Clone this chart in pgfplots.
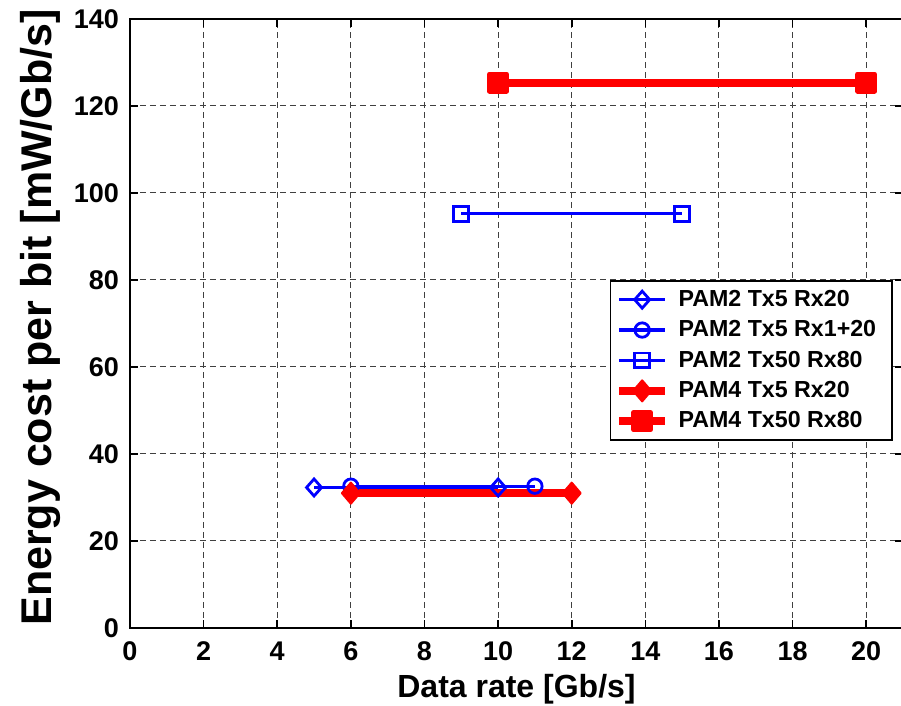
\documentclass[border=0pt]{standalone}
\usepackage{pgfplots}
\pgfplotsset{compat=1.18}
\usepackage{fontspec}
\setmainfont{Liberation Sans}
\begin{document}
\begin{tikzpicture}
\begin{axis}[
  scale only axis,
  width=386.5pt, height=304.5pt,
  xmin=0, xmax=21, ymin=0, ymax=140,
  xtick={0,2,...,20}, ytick={0,20,...,140},
  grid=major,
  major grid style={black!75, line width=0.5pt, dash pattern=on 3pt off 2pt},
  axis line style={line width=1pt},
  every tick/.style={black, line width=0.8pt},
  major tick length=4pt,
  tick align=inside,
  /pgf/number format/assume math mode=true,
  tick label style={font=\bfseries\fontsize{13.5}{14}\selectfont},
  xticklabel style={yshift=-3.5pt},
  yticklabel style={xshift=-2pt},
  xlabel={Data rate [Gb/s]},
  ylabel={Energy cost per bit [mW/Gb/s]},
  xlabel style={font=\bfseries\fontsize{16}{17}\selectfont, at={(axis description cs:0.5,-0.1002)}, anchor=center},
  ylabel style={font=\bfseries\fontsize{21.5}{22}\selectfont, at={(axis description cs:-0.1164,0.51)}, anchor=center},
  legend style={at={(rel axis cs:0.987,0.571)}, anchor=north east, draw=black, line width=0.8pt,
    font=\bfseries\fontsize{11.6}{13}\selectfont, row sep=1.6pt, inner sep=2.5pt},
  legend cell align=left,
  legend image code/.code={\draw[mark repeat=2,mark phase=2] plot coordinates {(0cm,0cm) (0.4cm,0cm) (0.8cm,0cm)}; \path (0.9cm,0cm);},
]
\addplot[blue, line width=1.6pt, mark=diamond, mark size=4.25pt, mark options={solid, line width=1.4pt, xscale=1.18}] coordinates {(5,32.3) (10,32.3)};
\addlegendentry{PAM2 Tx5 Rx20\hspace*{3.5pt}}
\addplot[blue, line width=1.6pt, mark=o, mark size=3.6pt, mark options={solid, line width=1.4pt}] coordinates {(6,32.6) (11,32.6)};
\addlegendentry{PAM2 Tx5 Rx1+20\hspace*{3.5pt}}
\addplot[blue, line width=1.6pt, mark=square, mark size=3.7pt, mark options={solid, line width=1.4pt}] coordinates {(9,95.2) (15,95.2)};
\addlegendentry{PAM2 Tx50 Rx80\hspace*{3.5pt}}
\addplot[red, line width=4pt, mark=diamond*, mark size=5.25pt, mark options={solid, line width=1pt, line join=round, xscale=1.14}] coordinates {(6,31.0) (12,31.0)};
\addlegendentry{PAM4 Tx5 Rx20\hspace*{3.5pt}}
\addplot[red, line width=4pt, mark=square*, mark size=4.25pt, mark options={solid, line width=2.5pt, line join=round}] coordinates {(10,125.4) (20,125.4)};
\addlegendentry{PAM4 Tx50 Rx80\hspace*{3.5pt}}
\end{axis}
\pgfresetboundingbox
\path[use as bounding box] ([shift={(-65pt,-39pt)}]current axis.south west) rectangle ++(450.5pt,353pt);
\end{tikzpicture}
\end{document}
